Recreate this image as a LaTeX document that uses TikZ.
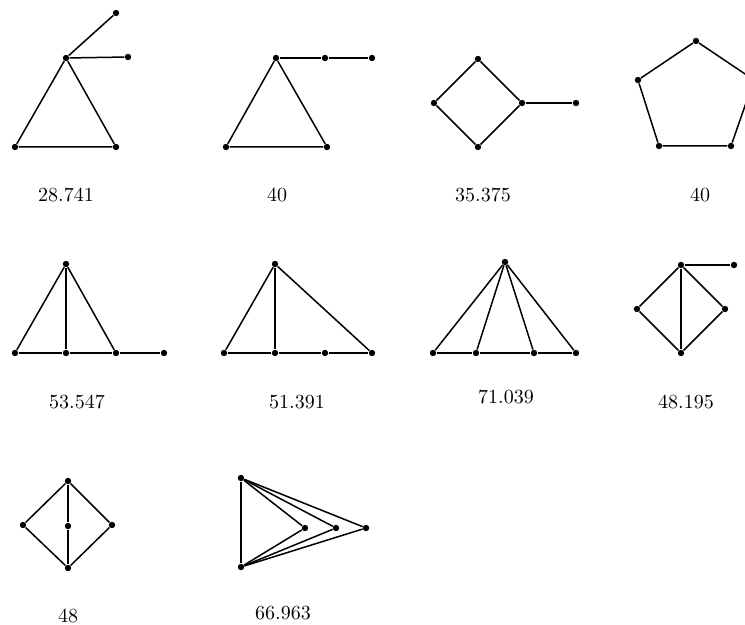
\documentclass[tikz,border=0pt]{standalone}
\usepackage{tikz}

\begin{document}
\begin{tikzpicture}[
    x=0.5pt, y=-0.5pt,
    vtx/.style={
        circle,
        fill=black,
        inner sep=0pt,
        minimum size=3.2pt,
    },
    edge/.style={line width=0.75pt},
    val/.style={font=\normalsize},
]

\clip (0,0) rectangle (745,625);

% row 1
\node[vtx] (a1) at ( 66,  58) {};
\node[vtx] (a2) at (116,  13) {};
\node[vtx] (a3) at (128,  57) {};
\node[vtx] (a4) at ( 15, 147) {};
\node[vtx] (a5) at (116, 147) {};
\node[val] (la) at ( 66, 195) {28.741};

\node[vtx] (b1) at (276,  58) {};
\node[vtx] (b2) at (325,  58) {};
\node[vtx] (b3) at (372,  58) {};
\node[vtx] (b4) at (226, 147) {};
\node[vtx] (b5) at (327, 147) {};
\node[val] (lb) at (277, 195) {40};

\node[vtx] (c1) at (478,  59) {};
\node[vtx] (c2) at (434, 103) {};
\node[vtx] (c3) at (522, 103) {};
\node[vtx] (c4) at (478, 147) {};
\node[vtx] (c5) at (576, 103) {};
\node[val] (lc) at (483, 195) {35.375};

\node[vtx] (d1) at (696,  41) {};
\node[vtx] (d2) at (638,  80) {};
\node[vtx] (d3) at (659, 146) {};
\node[vtx] (d4) at (731, 146) {};
\node[vtx] (d5) at (754,  80) {};
\node[val] (ld) at (700, 195) {40};

% row 2
\node[vtx] (e1) at ( 66, 264) {};
\node[vtx] (e2) at ( 15, 353) {};
\node[vtx] (e3) at ( 66, 353) {};
\node[vtx] (e4) at (116, 353) {};
\node[vtx] (e5) at (164, 353) {};
\node[val] (le) at ( 77, 402) {53.547};

\node[vtx] (f1) at (275, 264) {};
\node[vtx] (f2) at (224, 353) {};
\node[vtx] (f3) at (275, 353) {};
\node[vtx] (f4) at (325, 353) {};
\node[vtx] (f5) at (372, 353) {};
\node[val] (lf) at (297, 402) {51.391};

\node[vtx] (g1) at (505, 262) {};
\node[vtx] (g2) at (433, 353) {};
\node[vtx] (g3) at (476, 353) {};
\node[vtx] (g4) at (534, 353) {};
\node[vtx] (g5) at (576, 353) {};
\node[val] (lg) at (506, 397) {71.039};

\node[vtx] (h1) at (681, 265) {};
\node[vtx] (h2) at (734, 265) {};
\node[vtx] (h3) at (637, 309) {};
\node[vtx] (h4) at (725, 309) {};
\node[vtx] (h5) at (681, 353) {};
\node[val] (lh) at (686, 402) {48.195};

% row 3
\node[vtx] (i1) at ( 68, 481) {};
\node[vtx] (i2) at ( 23, 525) {};
\node[vtx] (i3) at ( 68, 526) {};
\node[vtx] (i4) at (112, 525) {};
\node[vtx] (i5) at ( 68, 568) {};
\node[val] (li) at ( 68, 616) {48};

\node[vtx] (j1) at (241, 478) {};
\node[vtx] (j2) at (241, 567) {};
\node[vtx] (j3) at (305, 528) {};
\node[vtx] (j4) at (336, 528) {};
\node[vtx] (j5) at (366, 528) {};
\node[val] (lj) at (283, 613) {66.963};

\draw[edge] (a1) -- (a2);
\draw[edge] (a1) -- (a3);
\draw[edge] (a1) -- (a4) -- (a5) -- (a1);

\draw[edge] (b1) -- (b2) -- (b3);
\draw[edge] (b1) -- (b4) -- (b5) -- (b1);

\draw[edge] (c1) -- (c2) -- (c4) -- (c3) -- (c1);
\draw[edge] (c3) -- (c5);

\draw[edge] (d1) -- (d2) -- (d3) -- (d4) -- (d5) -- (d1);

\draw[edge] (e2) -- (e3) -- (e4) -- (e5);
\draw[edge] (e1) -- (e2);
\draw[edge] (e1) -- (e3);
\draw[edge] (e1) -- (e4);

\draw[edge] (f2) -- (f3) -- (f4) -- (f5);
\draw[edge] (f1) -- (f2);
\draw[edge] (f1) -- (f3);
\draw[edge] (f1) -- (f5);

\draw[edge] (g2) -- (g3) -- (g4) -- (g5);
\draw[edge] (g1) -- (g2);
\draw[edge] (g1) -- (g3);
\draw[edge] (g1) -- (g4);
\draw[edge] (g1) -- (g5);

\draw[edge] (h1) -- (h2);
\draw[edge] (h1) -- (h3) -- (h5) -- (h4) -- (h1);
\draw[edge] (h1) -- (h5);

\draw[edge] (i1) -- (i2) -- (i5) -- (i4) -- (i1);
\draw[edge] (i1) -- (i3) -- (i5);

\draw[edge] (j1) -- (j2);
\draw[edge] (j1) -- (j3) -- (j2);
\draw[edge] (j1) -- (j4) -- (j2);
\draw[edge] (j1) -- (j5) -- (j2);

\end{tikzpicture}
\end{document}
